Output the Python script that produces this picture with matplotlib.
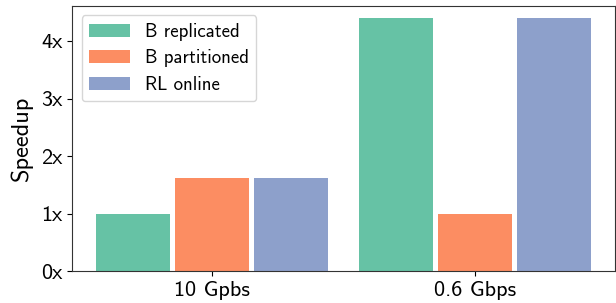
import numpy as np
import matplotlib
matplotlib.use("Agg")
import matplotlib.pyplot as plt

# values
groups = ["10 Gpbs", "0.6 Gbps"]
series = ["B replicated", "B partitioned", "RL online"]
b_replicated = [1.0, 4.4]
b_partitioned = [1.62, 1.0]
rl_online = [1.62, 4.4]
yticks = [0, 1, 2, 3, 4]
ytick_labels = ["0x", "1x", "2x", "3x", "4x"]

colors = ["#66c2a5", "#fc8d62", "#8da0cb"]

plt.rcParams["font.family"] = ["cmss10", "DejaVu Sans"]

fig = plt.figure(figsize=(6.16, 3.03), dpi=100)
ax = fig.add_axes([0.117, 0.104, 0.881, 0.877])

x = np.arange(len(groups))
width = 0.28
offset = 0.30
for i, (name, vals) in enumerate(zip(series, [b_replicated, b_partitioned, rl_online])):
    ax.bar(x + (i - 1) * offset, vals, width, color=colors[i], label=name)

ax.set_xticks(x)
ax.set_xticklabels(groups, fontsize=16)
ax.set_yticks(yticks)
ax.set_yticklabels(ytick_labels, fontsize=16)
ax.set_ylabel("Speedup", fontsize=17.5, labelpad=6)
ax.set_xlim(-0.53, 1.53)
ax.set_ylim(0, 4.61)
for s in ax.spines.values():
    s.set_color("#333333")

ax.legend(loc="upper left", fontsize=13.6, handlelength=2.15, handleheight=0.7,
          borderpad=0.4, labelspacing=0.45, handletextpad=0.8)

fig.savefig("out.png", dpi=100)
